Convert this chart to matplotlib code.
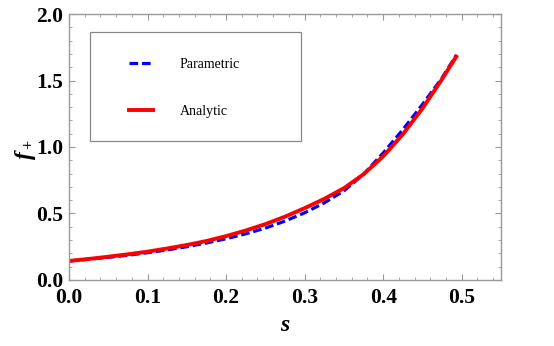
import matplotlib
matplotlib.use("Agg")
import matplotlib.pyplot as plt
from matplotlib.ticker import MultipleLocator
from matplotlib.patches import Rectangle

plt.rcParams['font.family'] = ['Liberation Serif', 'DejaVu Serif']
plt.rcParams['mathtext.fontset'] = 'custom'
plt.rcParams['mathtext.rm'] = 'Liberation Serif:bold'
plt.rcParams['mathtext.it'] = 'Liberation Serif:bold:italic'
plt.rcParams['mathtext.bf'] = 'Liberation Serif:bold'

s_vals = [0.0, 0.025, 0.05, 0.075, 0.1, 0.125, 0.15, 0.175, 0.2, 0.225, 0.25,
          0.275, 0.3, 0.325, 0.35, 0.375, 0.4, 0.425, 0.45, 0.475, 0.493]
analytic = [0.143, 0.158, 0.175, 0.193, 0.213, 0.237, 0.263, 0.293, 0.33, 0.372, 0.42,
            0.476, 0.54, 0.61, 0.69, 0.795, 0.93, 1.095, 1.29, 1.51, 1.68]
parametric = [0.143, 0.156, 0.17, 0.186, 0.205, 0.226, 0.25, 0.278, 0.31, 0.347, 0.39,
              0.443, 0.505, 0.58, 0.67, 0.795, 0.955, 1.13, 1.32, 1.52, 1.69]
labels = ["Parametric", "Analytic"]

fig = plt.figure(figsize=(5.54, 3.46), dpi=100)
ax = fig.add_axes([0.1245, 0.1908, 0.7798, 0.7687])

ax.plot(s_vals, parametric, color='#0000ff', lw=2.3, dashes=(2.7, 1.2), label=labels[0])
ax.plot(s_vals, analytic, color='#ff0000', lw=2.8, label=labels[1])

ax.set_xlim(0, 0.55)
ax.set_ylim(0, 2.0)
ax.xaxis.set_major_locator(MultipleLocator(0.1))
ax.xaxis.set_minor_locator(MultipleLocator(0.02))
ax.yaxis.set_major_locator(MultipleLocator(0.5))
ax.yaxis.set_minor_locator(MultipleLocator(0.1))

gray = '#999999'
for sp in ax.spines.values():
    sp.set_color(gray)
    sp.set_linewidth(1.0)
ax.tick_params(which='both', direction='in', top=True, right=True, color=gray)
ax.tick_params(which='major', length=4.5, width=0.8, labelsize=15.5)
ax.tick_params(axis='y', which='major', pad=4)
ax.tick_params(axis='x', which='major', pad=6)
ax.tick_params(which='minor', length=2.5, width=0.6)
for lab in ax.get_xticklabels() + ax.get_yticklabels():
    lab.set_fontweight('bold')

ax.set_xlabel('$s$', fontsize=17, labelpad=5)
ax.set_ylabel('$f_+$', fontsize=17)
ax.yaxis.set_label_coords(-0.072, 0.49)

# legend frame
ax.add_patch(Rectangle((0.049, 0.523), 0.488, 0.409, transform=ax.transAxes,
                       fill=False, edgecolor='#888888', lw=0.9, zorder=5))
leg = ax.legend(loc='upper left', bbox_to_anchor=(0.14, 0.835), frameon=False,
                fontsize=10, handlelength=1.7, handletextpad=1.9,
                labelspacing=2.45, borderpad=0, borderaxespad=0)

fig.savefig('out.png', dpi=100)
